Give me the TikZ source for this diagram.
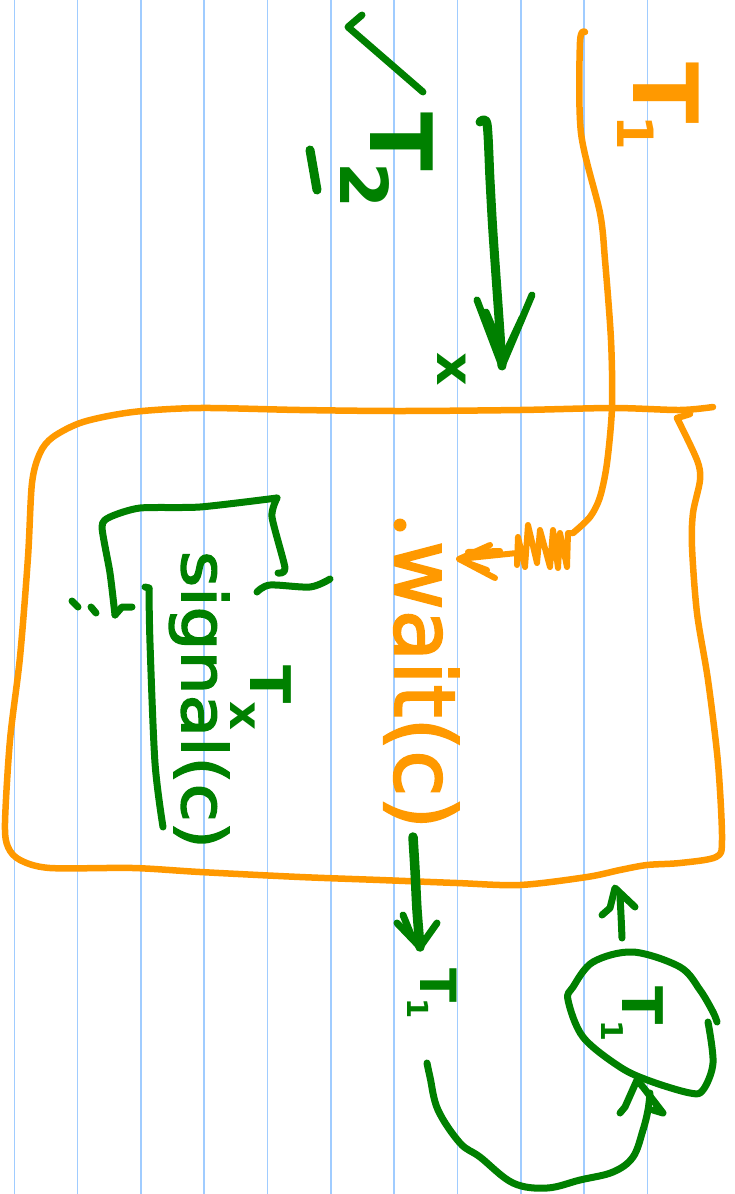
\documentclass[tikz,border=0pt]{standalone}
\usepackage{fontspec}
\usepackage{graphicx}
\newfontfamily\hand[FakeBold=2.5]{DejaVu Sans}
\newfontfamily\handb{DejaVu Sans Bold}
\definecolor{pengreen}{RGB}{0,128,0}
\definecolor{penorange}{RGB}{255,153,0}
\definecolor{ruleblue}{RGB}{160,204,255}
\tikzset{
  greenpen/.style={draw=pengreen, line width=7pt, line cap=round, line join=round},
  orangepen/.style={draw=penorange, line width=6.5pt, line cap=round, line join=round},
  lbl/.style={inner sep=0pt, outer sep=0pt, rotate=-90, anchor=base west},
  rule/.style={draw=ruleblue, line width=1.6pt},
}
\begin{document}
\begin{tikzpicture}[x=1pt,y=-1pt]
\useasboundingbox (0,0) rectangle (735,1194);
\fill[white] (0,0) rectangle (735,1194);
% ruled paper
\foreach \k in {0,...,10}{\draw[rule] ({14.3+63.3*\k},0) -- ({14.3+63.3*\k},1194);}

% ---------- orange monitor box ----------
\draw[orangepen] plot[smooth, tension=0.5] coordinates {(713,407) (680,410) (613,408) (520,410) (400,411) (300,410) (200,408) (133,412) (83,422) (53,437) (40,453) (32,483) (28,557) (20,657) (10,740) (5,823) (8,847) (20,860) (50,868) (133,868) (200,872) (300,877) (380,880) (457,883) (520,885) (587,877) (620,870) (647,865) (680,863) (716,857) (722,840) (718,763) (708,680) (697,613) (692,547) (693,513) (700,480) (697,460) (677,418)};
\draw[orangepen] (677,418) -- (690,414);

% ---------- orange T1 and its thread line ----------
\node[lbl, text=penorange, font={\handb\fontsize{90}{90}\selectfont}] (T1top) at (633,62) {T\kern-8pt\raisebox{-16pt}{\fontsize{50}{50}\selectfont 1}};
\coordinate (t1start) at (585,32);
\coordinate (t1turn) at (573,533);
\coordinate (t1tip) at (459,559);
\draw[orangepen] plot[smooth, tension=0.5] coordinates {(t1start) (580,42) (581,133) (600,213) (605,260) (611,340) (612,407) (607,463) (600,497) (590,517) (t1turn)};
\draw[orangepen, line width=6pt] (t1turn) -- (568,533) -- (567,567) -- (560,533) -- (558,568) -- (553,530) -- (550,567) -- (540,530) -- (537,563) -- (528,525) -- (525,567) -- (518,537) -- (517,565) -- (517,553) -- (t1tip);
\draw[orangepen, line width=6pt] (490,545) -- (t1tip) -- (495,578);
\draw[orangepen, line width=6pt] (468,552) -- (500,551);
\draw[orangepen, line width=6pt] (468,563) -- (487,570);

% ---------- wait(c) ----------
\fill[penorange] (400,525) circle (6.5);
\node[lbl, text=penorange, font={\hand\fontsize{84}{84}\selectfont}] (waitc) at (395,541) {wait(c)};

% ---------- green T2, x and arrow ----------
\draw[greenpen] (362,15) -- (348,27) -- (423,92);
\node[lbl, text=pengreen, font={\handb\fontsize{86}{86}\selectfont}] (T2) at (370,112) {T\kern-8pt\raisebox{-30pt}{\fontsize{66}{66}\selectfont 2}};
\draw[greenpen, line width=9pt] (310,150) -- (317,190);
\coordinate (xtop) at (480,122);
\coordinate (xtip) at (502,366);
\draw[greenpen, line width=9pt] plot[smooth] coordinates {(xtop) (487,124) (490,180) (493,233) (500,333) (xtip)};
\draw[greenpen] (477,300) -- (xtip) -- (532,295);
\draw[greenpen] (486,312) -- (500,345);
\draw[greenpen] (522,318) -- (508,348);
\node[lbl, text=pengreen, font={\handb\fontsize{52}{52}\selectfont}] (xlab) at (437,352) {x};

% ---------- signal(c) with bracket ----------
\draw[greenpen] plot[smooth, tension=0.4] coordinates {(115,615) (110,573) (102,527) (110,517) (140,508) (200,507) (277,498)};
\draw[greenpen] plot[smooth, tension=0.4] coordinates {(277,498) (272,517) (285,568) (278,573)};
\draw[greenpen] (115,615) -- (122,607) -- (132,607);
\draw[greenpen] plot[smooth] coordinates {(257,592) (270,585) (310,587) (330,579)};
\draw[greenpen] (72,601) -- (78,607);
\draw[greenpen] (91,607) -- (96,613);
\draw[greenpen] (145,587) -- (149,588);
\draw[greenpen] plot[smooth] coordinates {(149,588) (150,643) (155,763) (163,827)};
\node[lbl, text=pengreen, font={\hand\fontsize{62}{62}\selectfont}] (signalc) at (182,551) {\scalebox{1.12}[1]{signal(c)}};
\node[lbl, text=pengreen, font={\handb\fontsize{56}{56}\selectfont}] (Tx) at (250,665) {T\kern-2pt\raisebox{-20pt}{\fontsize{45}{45}\selectfont x}};

% ---------- arrow out of wait(c) ----------
\coordinate (wout) at (413,837);
\coordinate (wtip) at (420,947);
\draw[greenpen, line width=9.5pt] plot[smooth] coordinates {(wout) (415,870) (417,910) (wtip)};
\draw[greenpen] (397,923) -- (wtip) -- (437,923);
\draw[greenpen] (403,915) -- (412,937);
\node[lbl, text=pengreen, font={\handb\fontsize{50}{50}\selectfont}] (T1low) at (420,968) {T\kern-4pt\raisebox{-13pt}{\fontsize{29}{29}\selectfont 1}};

% ---------- circled T1 ----------
\node[lbl, text=pengreen, font={\handb\fontsize{56}{56}\selectfont}] (T1circ) at (622,986) {T\kern-4pt\raisebox{-21pt}{\fontsize{30}{30}\selectfont 1}};
\draw[greenpen] plot[smooth, tension=0.55] coordinates {(708,1022) (713,1063) (703,1090) (690,1093) (650,1081) (620,1067) (583,1037) (568,1000) (573,987) (593,962) (633,952) (680,967) (700,990) (713,1012) (717,1022)};

% arrow from the circle back into the box
\coordinate (cup) at (622,938);
\coordinate (ctip) at (615,888);
\draw[greenpen] plot[smooth] coordinates {(cup) (621,915) (620,897)};
\draw[greenpen] (602,915) -- (610,908) -- (ctip) -- (635,907);

% arrow from T1 round into the circle
\coordinate (lstart) at (427,1063);
\coordinate (ltip) at (637,1080);
\draw[greenpen] plot[smooth, tension=0.6] coordinates {(lstart) (430,1077) (438,1110) (460,1143) (480,1157) (513,1183) (547,1188) (580,1180) (613,1172) (633,1157) (643,1130) (648,1110) (650,1093)};
\draw[greenpen] (620,1113) -- (625,1107) -- (ltip) -- (643,1087) -- (663,1113) -- (653,1110);
\end{tikzpicture}
\end{document}
